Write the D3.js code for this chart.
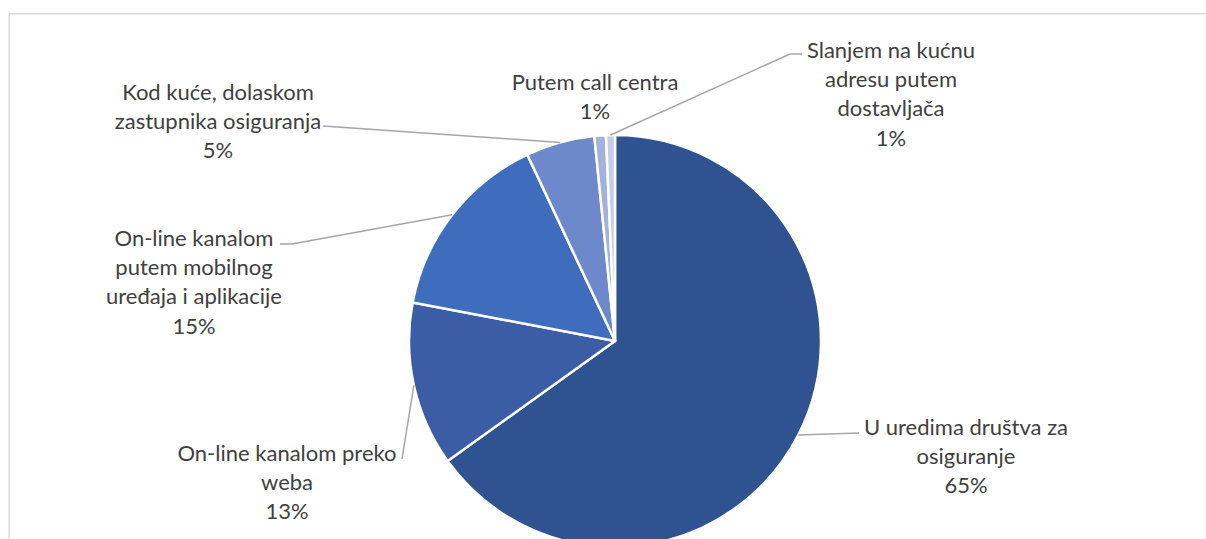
<!DOCTYPE html>
<html>
<head>
<meta charset="utf-8">
<script src="https://cdn.jsdelivr.net/npm/d3@7"></script>
<style>
  html, body { margin: 0; padding: 0; background: #fff; }
  svg { display: block; }
</style>
</head>
<body>
<svg id="chart" width="1206" height="539"></svg>
<script>
// ---- data ----
const categories = [
  "U uredima društva za osiguranje",
  "On-line kanalom preko weba",
  "On-line kanalom putem mobilnog uređaja i aplikacije",
  "Kod kuće, dolaskom zastupnika osiguranja",
  "Putem call centra",
  "Slanjem na kućnu adresu putem dostavljača"
];
const values = [65.1, 12.9, 15.0, 5.4, 0.9, 0.7];
const percentLabels = ["65%", "13%", "15%", "5%", "1%", "1%"];
const labelLines = [
  ["U uredima društva za", "osiguranje", "65%"],
  ["On-line kanalom preko", "weba", "13%"],
  ["On-line kanalom", "putem mobilnog", "uređaja i aplikacije", "15%"],
  ["Kod kuće, dolaskom", "zastupnika osiguranja", "5%"],
  ["Putem call centra", "1%"],
  ["Slanjem na kućnu", "adresu putem", "dostavljača", "1%"]
];
const colors = ["#2F5290", "#3A5DA5", "#3F6DBD", "#6E89CB", "#A2B2DD", "#C4CDEB"];

// ---- layout (label placement) ----
const labelCenters = [[966, 427], [287, 453], [194, 238], [218, 92], [595, 82], [891, 50]];
const leaderEnds = [
  [[859, 433]],
  [[402, 459]],
  [[292, 244], [280, 244]],
  [[323, 126]],
  null,
  [[790, 54], [802, 54]]
];

const svg = d3.select("#chart");
const W = 1206, H = 539;
const cx = 615, cy = 341, R = 206;

// chart border
svg.append("rect")
  .attr("x", 9.25).attr("y", 13.75)
  .attr("width", W + 10).attr("height", H + 10)
  .attr("fill", "none").attr("stroke", "#D9D9D9").attr("stroke-width", 1.5);

const pie = d3.pie().sort(null).value(d => d)(values);
const arc = d3.arc().innerRadius(0).outerRadius(R);

const g = svg.append("g").attr("transform", `translate(${cx},${cy})`);
g.selectAll("path.slice").data(pie).enter().append("path")
  .attr("class", "slice")
  .attr("d", arc)
  .attr("fill", (d, i) => colors[i])
  .attr("stroke", "#fff").attr("stroke-width", 2.5)
  .attr("stroke-linejoin", "round");

// leader lines
const line = d3.line();
pie.forEach((d, i) => {
  if (!leaderEnds[i]) return;
  const a = (d.startAngle + d.endAngle) / 2;
  const p0 = [cx + R * Math.sin(a), cy - R * Math.cos(a)];
  const pts = [p0].concat(leaderEnds[i]);
  svg.append("path")
    .attr("d", line(pts))
    .attr("fill", "none")
    .attr("stroke", "#A6A6A6").attr("stroke-width", 1.5);
});

// labels
const lineH = 29.3;
labelLines.forEach((lines, i) => {
  const t = svg.append("text")
    .attr("text-anchor", "middle")
    .attr("font-family", "Lato, 'Open Sans', sans-serif")
    .attr("font-size", 22)
    .attr("fill", "#404040");
  lines.forEach((s, k) => {
    t.append("tspan")
      .attr("x", labelCenters[i][0])
      .attr("y", labelCenters[i][1] + k * lineH)
      .attr("dy", "0.35em")
      .text(s);
  });
});
</script>
</body>
</html>
